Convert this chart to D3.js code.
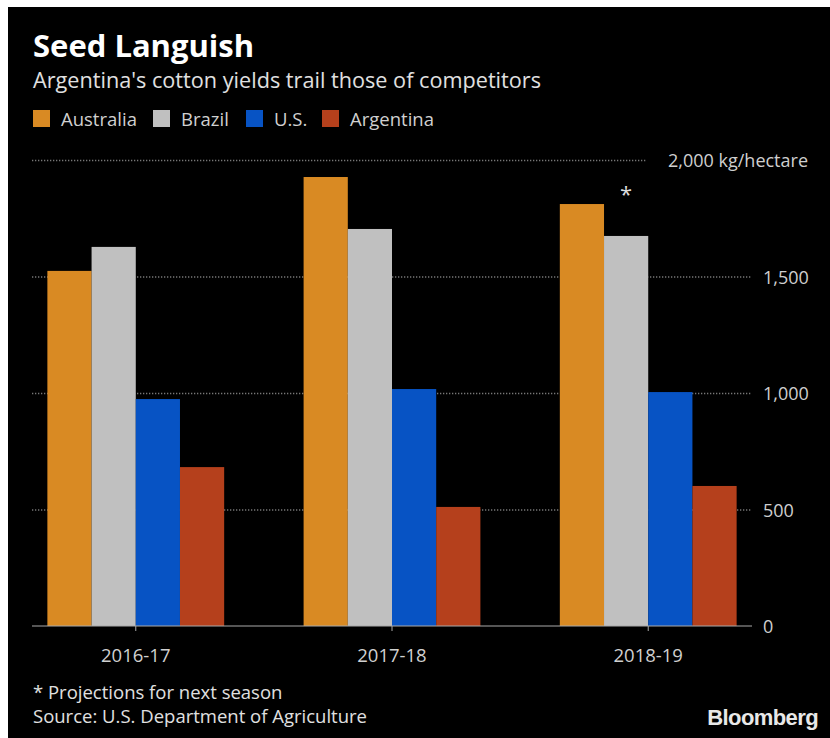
<!DOCTYPE html>
<html>
<head>
<meta charset="utf-8">
<script src="https://cdn.jsdelivr.net/npm/d3@7"></script>
<style>
  html, body { margin: 0; padding: 0; background: #fff; }
  svg { display: block; }
  text { font-family: "Open Sans", "Noto Sans", sans-serif; }
</style>
</head>
<body>
<script>
// chart data
var seasons = ["2016-17", "2017-18", "2018-19"];
var countries = ["Australia", "Brazil", "U.S.", "Argentina"];
var australia = [1524, 1927, 1811];
var brazil = [1627, 1704, 1674];
var us = [974, 1017, 1004];
var argentina = [682, 511, 601];
var yTicks = [0, 500, 1000, 1500, 2000];
var colors = ["#d98a23", "#c0c0c0", "#0753c4", "#b5401c"];

var series = [australia, brazil, us, argentina];

var width = 830, height = 738;

var svg = d3.select("body").append("svg")
    .attr("width", width)
    .attr("height", height);

svg.append("rect")
    .attr("x", 8).attr("y", 7)
    .attr("width", width - 8).attr("height", height - 7)
    .attr("fill", "#000");

// plot area
var plotLeft = 32, plotRight = 752, plotTop = 160, plotBottom = 626;

var x0 = d3.scaleBand()
    .domain(seasons)
    .range([plotLeft, plotRight])
    .paddingInner(0.31)
    .paddingOuter(0.06);

var x1 = d3.scaleBand()
    .domain(countries)
    .range([0, x0.bandwidth()]);

var y = d3.scaleLinear()
    .domain([0, 2000])
    .range([plotBottom, plotTop]);

// gridlines
svg.append("g")
    .selectAll("line")
    .data(yTicks.filter(function (d) { return d > 0; }))
    .enter().append("line")
    .attr("x1", plotLeft)
    .attr("x2", function (d) { return d === 2000 ? 647 : plotRight; })
    .attr("y1", function (d) { return y(d) + 0.5; })
    .attr("y2", function (d) { return y(d) + 0.5; })
    .attr("stroke", "#777")
    .attr("stroke-width", 1.3)
    .attr("stroke-dasharray", "1.3,1.7");

// tick labels
svg.append("g")
    .selectAll("text")
    .data(yTicks)
    .enter().append("text")
    .attr("x", function (d) { return d === 2000 ? 808 : 763; })
    .attr("y", function (d) { return y(d) + 7; })
    .attr("text-anchor", function (d) { return d === 2000 ? "end" : "start"; })
    .attr("fill", "#cfcfcf")
    .style("font-size", "18px")
    .text(function (d) { return d === 2000 ? "2,000 kg/hectare" : d3.format(",")(d); });

// bars
var groups = svg.append("g")
    .selectAll("g")
    .data(seasons)
    .enter().append("g")
    .attr("transform", function (d) { return "translate(" + x0(d) + ",0)"; });

groups.selectAll("rect")
    .data(function (d, i) {
        return countries.map(function (c, j) {
            return { country: c, value: series[j][i], color: colors[j] };
        });
    })
    .enter().append("rect")
    .attr("x", function (d) { return x1(d.country); })
    .attr("width", x1.bandwidth())
    .attr("y", function (d) { return y(d.value); })
    .attr("height", function (d) { return plotBottom - y(d.value); })
    .attr("fill", function (d) { return d.color; });

// projection marker
svg.append("text")
    .attr("x", x0("2018-19") + x1("Brazil") + x1.bandwidth() / 2)
    .attr("y", y(brazil[2]) - 34)
    .attr("text-anchor", "middle")
    .attr("fill", "#ddd")
    .style("font-size", "22px")
    .text("*");

// x axis
var xAxis = svg.append("g")
    .attr("transform", "translate(0," + plotBottom + ")");

xAxis.append("line")
    .attr("x1", plotLeft).attr("x2", plotRight)
    .attr("stroke", "#aaa").attr("stroke-width", 1.2);

xAxis.selectAll(".tick")
    .data(seasons)
    .enter().append("line")
    .attr("x1", function (d) { return x0(d) + x0.bandwidth() / 2; })
    .attr("x2", function (d) { return x0(d) + x0.bandwidth() / 2; })
    .attr("y1", 0).attr("y2", 5)
    .attr("stroke", "#aaa");

xAxis.selectAll("text")
    .data(seasons)
    .enter().append("text")
    .attr("x", function (d) { return x0(d) + x0.bandwidth() / 2; })
    .attr("y", 36)
    .attr("text-anchor", "middle")
    .attr("fill", "#d0d0d0")
    .style("font-size", "18.5px")
    .text(function (d) { return d; });

// titles
svg.append("text")
    .attr("x", 33).attr("y", 57)
    .attr("fill", "#fff")
    .style("font-size", "31px")
    .style("font-weight", "bold")
    .text("Seed Languish");

svg.append("text")
    .attr("x", 33).attr("y", 88)
    .attr("fill", "#e0e0e0")
    .style("font-size", "21px")
    .attr("textLength", 508)
    .attr("lengthAdjust", "spacingAndGlyphs")
    .text("Argentina's cotton yields trail those of competitors");

// legend
var legendX = [33, 153, 246, 322];
var legend = svg.append("g")
    .selectAll("g")
    .data(countries)
    .enter().append("g")
    .attr("transform", function (d, i) { return "translate(" + legendX[i] + ",110)"; });

legend.append("rect")
    .attr("width", 17).attr("height", 17)
    .attr("fill", function (d, i) { return colors[i]; });

legend.append("text")
    .attr("x", 28).attr("y", 16)
    .attr("fill", "#d0d0d0")
    .style("font-size", "18.5px")
    .text(function (d) { return d; });

// footer
svg.append("text")
    .attr("x", 33).attr("y", 699)
    .attr("fill", "#e0e0e0")
    .style("font-size", "18.5px")
    .text("* Projections for next season");

svg.append("text")
    .attr("x", 33).attr("y", 723)
    .attr("fill", "#e0e0e0")
    .style("font-size", "18.5px")
    .text("Source: U.S. Department of Agriculture");

svg.append("text")
    .attr("x", 818).attr("y", 725)
    .attr("text-anchor", "end")
    .attr("fill", "#e8e8e8")
    .style("font-family", "'Liberation Sans', Arial, sans-serif")
    .style("font-size", "22px")
    .style("font-weight", "bold")
    .style("letter-spacing", "-0.6px")
    .text("Bloomberg");
</script>
</body>
</html>
